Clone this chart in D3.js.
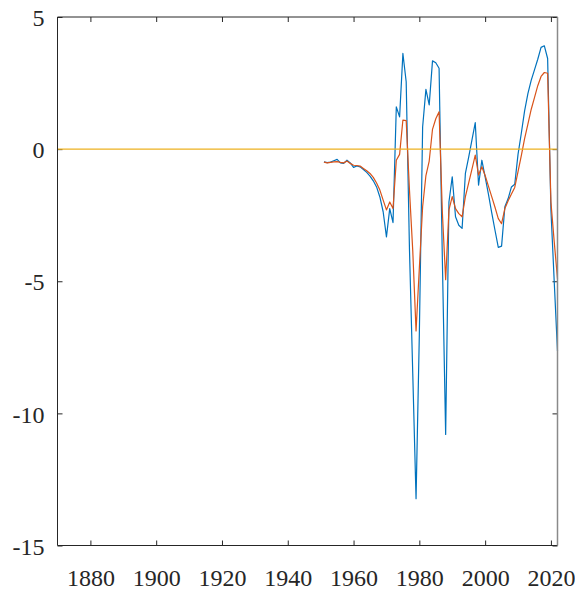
<!DOCTYPE html>
<html>
<head>
<meta charset="utf-8">
<script src="https://cdn.jsdelivr.net/npm/d3@7"></script>
<style>
  html, body { margin: 0; padding: 0; background: #fff; }
  svg { display: block; }
</style>
</head>
<body>
<svg id="chart" width="575" height="591"></svg>
<script>
// ---- data ----
const years = d3.range(1951, 2023); // 1951..2022
const seriesA = [ // blue
  -0.48, -0.51, -0.49, -0.44, -0.39, -0.52, -0.54, -0.42, -0.52, -0.69,
  -0.64, -0.67, -0.77, -0.88, -1.02, -1.20, -1.43, -1.81, -2.37, -3.32,
  -2.25, -2.78, 1.60, 1.22, 3.62, 2.55, -3.80, -8.50, -13.23, -7.00,
  0.84, 2.26, 1.67, 3.34, 3.27, 3.06, -4.20, -10.80, -2.00, -1.05,
  -2.56, -2.88, -3.00, -0.92, -0.30, 0.35, 1.00, -1.36, -0.42, -1.05,
  -1.70, -2.40, -3.07, -3.72, -3.67, -2.18, -1.87, -1.43, -1.33, -0.20,
  0.60, 1.45, 2.10, 2.60, 3.00, 3.40, 3.85, 3.91, 3.43, -2.30,
  -5.00, -7.65
];
const seriesB = [ // orange
  -0.49, -0.52, -0.50, -0.48, -0.47, -0.50, -0.52, -0.45, -0.54, -0.61,
  -0.62, -0.64, -0.73, -0.82, -0.92, -1.07, -1.28, -1.55, -1.93, -2.30,
  -2.00, -2.25, -0.42, -0.20, 1.10, 1.08, -1.55, -3.85, -6.88, -4.50,
  -2.18, -1.00, -0.45, 0.75, 1.15, 1.41, -2.40, -4.94, -2.30, -1.80,
  -2.25, -2.44, -2.56, -1.80, -1.28, -0.76, -0.23, -0.98, -0.67, -1.00,
  -1.40, -1.80, -2.20, -2.63, -2.82, -2.25, -1.95, -1.70, -1.45, -0.85,
  -0.25, 0.40, 0.95, 1.50, 1.95, 2.40, 2.75, 2.90, 2.87, -2.00,
  -3.50, -4.90
];
const refValue = 0;
const xTicks = [1880, 1900, 1920, 1940, 1960, 1980, 2000, 2020];
const yTicks = [-15, -10, -5, 0, 5];
const xDomain = [1870, 2022];
const yDomain = [-15, 5];

// ---- drawing ----
const svg = d3.select("#chart");
const L = 57.5, R = 557.5, T = 17, B = 545.5;
const x = d3.scaleLinear().domain(xDomain).range([L, R]);
const y = d3.scaleLinear().domain(yDomain).range([B, T]);

const font = "'Liberation Serif', 'Times New Roman', serif";
const axisColor = "#262626";
const fmt = d => String(d); // plain hyphen-minus like the reference

// bottom axis with labels
const gx = svg.append("g").attr("transform", `translate(0,${B})`)
  .call(d3.axisBottom(x).tickValues(xTicks).tickFormat(fmt).tickSizeInner(-5).tickSizeOuter(0));
gx.select(".domain").remove();
gx.selectAll("line").attr("stroke", axisColor);
gx.selectAll("text").attr("y", 40.5).attr("dy", 0)
  .style("font-family", font).style("font-size", "24px").attr("fill", axisColor);

// top ticks
const gxt = svg.append("g").attr("transform", `translate(0,${T})`)
  .call(d3.axisTop(x).tickValues(xTicks).tickFormat("").tickSizeInner(-5).tickSizeOuter(0));
gxt.select(".domain").remove();
gxt.selectAll("line").attr("stroke", axisColor);

// left axis
const gy = svg.append("g").attr("transform", `translate(${L},0)`)
  .call(d3.axisLeft(y).tickValues(yTicks).tickFormat(fmt).tickSizeInner(-5).tickSizeOuter(0));
gy.select(".domain").remove();
gy.selectAll("line").attr("stroke", axisColor);
gy.selectAll("text").attr("x", -13).attr("dy", "0.36em")
  .style("font-family", font).style("font-size", "24px").attr("fill", axisColor);

// right ticks
const gyr = svg.append("g").attr("transform", `translate(${R},0)`)
  .call(d3.axisRight(y).tickValues(yTicks).tickFormat("").tickSizeInner(-5).tickSizeOuter(0));
gyr.select(".domain").remove();
gyr.selectAll("line").attr("stroke", axisColor);

// data lines
const line = d3.line().x((d, i) => x(years[i])).y(d => y(d));
svg.append("path").datum(seriesA).attr("d", line)
  .attr("fill", "none").attr("stroke", "#0072BD").attr("stroke-width", 1.2).attr("stroke-linejoin", "round");
svg.append("path").datum(seriesB).attr("d", line)
  .attr("fill", "none").attr("stroke", "#D95319").attr("stroke-width", 1.2).attr("stroke-linejoin", "round");

// reference line
svg.append("line")
  .attr("x1", L).attr("x2", R).attr("y1", y(refValue)).attr("y2", y(refValue))
  .attr("stroke", "#EDB120").attr("stroke-width", 1.2);

// box
svg.append("path")
  .attr("d", `M${L},${B}V${T}H${R}`)
  .attr("fill", "none").attr("stroke", axisColor).attr("stroke-width", 1);
svg.append("line").attr("x1", L).attr("x2", R).attr("y1", B).attr("y2", B)
  .attr("stroke", axisColor).attr("stroke-width", 1);
svg.append("line").attr("x1", R).attr("x2", R).attr("y1", T).attr("y2", B)
  .attr("stroke", "#8a8a8a").attr("stroke-width", 1.5);
</script>
</body>
</html>
